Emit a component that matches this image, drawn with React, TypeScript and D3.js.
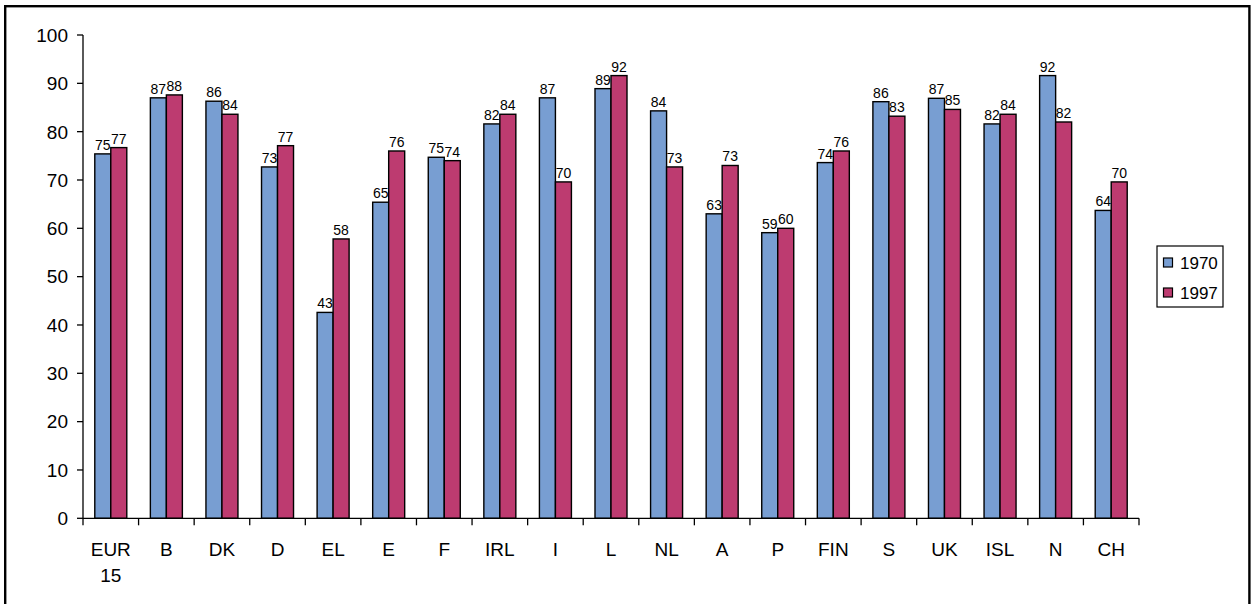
import React from "react";
import * as d3 from "d3";

const categories = ["EUR\n15", "B", "DK", "D", "EL", "E", "F", "IRL", "I", "L", "NL", "A", "P", "FIN", "S", "UK", "ISL", "N", "CH"];
const values1970 = [75.4, 87.0, 86.3, 72.7, 42.6, 65.4, 74.7, 81.6, 87.0, 88.9, 84.3, 63.0, 59.1, 73.6, 86.2, 86.9, 81.6, 91.6, 63.7];
const values1997 = [76.7, 87.6, 83.6, 77.1, 57.8, 76.0, 74.0, 83.6, 69.6, 91.6, 72.7, 73.0, 60.0, 76.0, 83.2, 84.6, 83.6, 82.0, 69.6];
const seriesNames = ["1970", "1997"];
const seriesColors = ["#789ED2", "#BD3B70"];
const yTicks = [0, 10, 20, 30, 40, 50, 60, 70, 80, 90, 100];

const W = 1252, H = 604;
const left = 83, right = 1139, top = 35, bottom = 518.3;
const FONT = "Arial, 'Liberation Sans', sans-serif";

export default function App() {
  const x = d3.scaleBand<string>().domain(categories).range([left, right]).paddingInner(0).paddingOuter(0);
  const y = d3.scaleLinear().domain([0, 100]).range([bottom, top]);
  const barW = 16;
  const series = [values1970, values1997];

  return (
    <svg width={W} height={H} style={{ position: "absolute", left: 0, top: 0, background: "#fff" }} fontFamily={FONT}>
      <rect x={5.2} y={6.2} width={1244.2} height={620} fill="#fff" stroke="#000" strokeWidth={2.4} />
      {/* bars */}
      {categories.map((c, i) => {
        const cx = (x(c) as number) + x.bandwidth() / 2;
        return (
          <g key={c}>
            {series.map((vals, s) => {
              const bx = cx - barW + s * barW;
              const v = vals[i];
              return (
                <g key={s}>
                  <rect x={bx} y={y(v)} width={barW} height={y(0) - y(v)} fill={seriesColors[s]} stroke="#000" strokeWidth={1.4} />
                  <text x={bx + barW / 2} y={y(v) - 4} textAnchor="middle" fontSize={14} fill="#000">{Math.round(v)}</text>
                </g>
              );
            })}
          </g>
        );
      })}
      {/* y axis */}
      <line x1={left} x2={left} y1={top} y2={bottom} stroke="#000" strokeWidth={1.3} />
      {yTicks.map((t) => (
        <g key={t}>
          <line x1={left - 6} x2={left} y1={y(t)} y2={y(t)} stroke="#000" strokeWidth={1.3} />
          <text x={left - 15} y={y(t)} dy="0.36em" textAnchor="end" fontSize={19} fill="#000">{t}</text>
        </g>
      ))}
      {/* x axis */}
      <line x1={left} x2={right} y1={bottom} y2={bottom} stroke="#000" strokeWidth={1.3} />
      {categories.map((c, i) => (
        <line key={"t" + i} x1={x(c) as number} x2={x(c) as number} y1={bottom} y2={bottom + 7} stroke="#000" strokeWidth={1.3} />
      ))}
      <line x1={right} x2={right} y1={bottom} y2={bottom + 7} stroke="#000" strokeWidth={1.3} />
      {categories.map((c) => {
        const cx = (x(c) as number) + x.bandwidth() / 2;
        const lines = c.split("\n");
        return (
          <text key={"l" + c} x={cx} y={bottom + 38} textAnchor="middle" fontSize={19} fill="#000">
            {lines.map((ln, k) => (
              <tspan key={k} x={cx} dy={k === 0 ? 0 : 26}>{ln}</tspan>
            ))}
          </text>
        );
      })}
      {/* legend */}
      <rect x={1157} y={246} width={66} height={61} fill="#fff" stroke="#000" strokeWidth={1.2} />
      {seriesNames.map((n, s) => (
        <g key={n}>
          <rect x={1163.5} y={258 + s * 30} width={9} height={9} fill={seriesColors[s]} stroke="#000" strokeWidth={1.2} />
          <text x={1180} y={262.5 + s * 30} dy="0.36em" fontSize={17} fill="#000">{n}</text>
        </g>
      ))}
    </svg>
  );
}
